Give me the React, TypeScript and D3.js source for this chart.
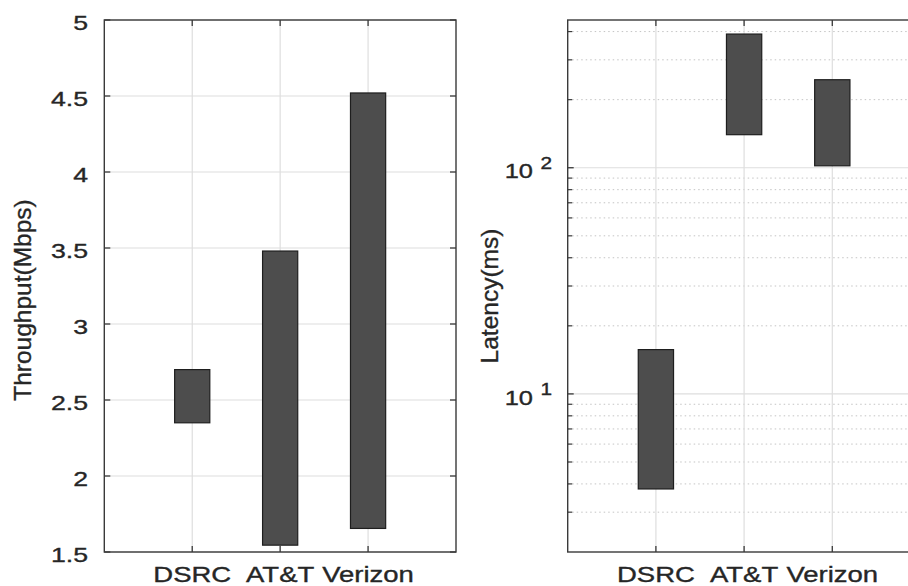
import React from "react";
import * as d3 from "d3";

const categories = ["DSRC", "AT&T", "Verizon"];
const throughputLow = [2.35, 1.545, 1.655];
const throughputHigh = [2.7, 3.48, 4.52];
const latencyLow = [3.8, 140, 102];
const latencyHigh = [15.7, 390, 245];
const throughputTicks = [1.5, 2, 2.5, 3, 3.5, 4, 4.5, 5];
const latencyMajor = [10, 100];
const latencyExponents = ["1", "2"];
const latencyMinor = [3, 4, 5, 6, 7, 8, 9, 20, 30, 40, 50, 60, 70, 80, 90, 200, 300, 400];

const W = 908;
const H = 586;
const TOP = 20;
const BOTTOM = 552;
const TEXT = "#262626";
const AXIS = "#3a3a3a";
const GRID = "#dedede";
const MINOR = "#c4c4c4";
const FONT = "'Liberation Sans', Arial, sans-serif";
const SX = 1.27;
const TS = 0.35;

export default function App() {
  const lx = d3.scaleLinear().domain([0, 4]).range([104.3, 456]);
  const ly = d3.scaleLinear().domain([1.5, 5]).range([BOTTOM, TOP]);
  const rx = d3.scaleLinear().domain([0, 4]).range([567.7, 920.5]);
  const ry = d3.scaleLog().domain([2, 450]).range([BOTTOM, TOP]);
  const barW = 0.4;
  const tickLen = 6;

  const leftX0 = lx(0), leftX1 = lx(4);
  const rightX0 = rx(0), rightX1 = rx(4);

  return (
    <svg
      width={W}
      height={H}
      style={{ position: "absolute", left: 0, top: 0, background: "#fff" }}
      fontFamily={FONT}
    >
      <rect x={0} y={0} width={W} height={H} fill="#fff" />

      {/* ---------- LEFT PANEL ---------- */}
      <g>
        {throughputTicks.map((t) => (
          <line key={"lg" + t} x1={leftX0} x2={leftX1} y1={ly(t)} y2={ly(t)} stroke={GRID} strokeWidth={1.2} />
        ))}
        {categories.map((c, i) => (
          <line key={"lgx" + c} x1={lx(i + 1)} x2={lx(i + 1)} y1={TOP} y2={BOTTOM} stroke={GRID} strokeWidth={1.2} />
        ))}
        {categories.map((c, i) => (
          <rect
            key={"lb" + c}
            x={lx(i + 1 - barW / 2)}
            y={ly(throughputHigh[i])}
            width={lx(i + 1 + barW / 2) - lx(i + 1 - barW / 2)}
            height={ly(throughputLow[i]) - ly(throughputHigh[i])}
            fill="#4d4d4d"
            stroke="#1e1e1e"
            strokeWidth={1.2}
          />
        ))}
        <rect x={leftX0} y={TOP} width={leftX1 - leftX0} height={BOTTOM - TOP} fill="none" stroke={AXIS} strokeWidth={1.4} />
        {throughputTicks.map((t) => (
          <g key={"lt" + t}>
            <line x1={leftX0} x2={leftX0 + tickLen} y1={ly(t)} y2={ly(t)} stroke={AXIS} strokeWidth={1.3} />
            <line x1={leftX1} x2={leftX1 - tickLen} y1={ly(t)} y2={ly(t)} stroke={AXIS} strokeWidth={1.3} />
            <text
              transform={`translate(88,${ly(t) + 9.5}) scale(${SX},1)`}
              textAnchor="end"
              fontSize={21}
              fill={TEXT}
              stroke={TEXT}
              strokeWidth={TS}
            >
              {String(t)}
            </text>
          </g>
        ))}
        {categories.map((c, i) => (
          <g key={"lxt" + c}>
            <line x1={lx(i + 1)} x2={lx(i + 1)} y1={BOTTOM} y2={BOTTOM - tickLen} stroke={AXIS} strokeWidth={1.3} />
            <line x1={lx(i + 1)} x2={lx(i + 1)} y1={TOP} y2={TOP + tickLen} stroke={AXIS} strokeWidth={1.3} />
            <text
              transform={`translate(${lx(i + 1)},581.5) scale(1.25,1)`}
              textAnchor="middle"
              fontSize={22}
              fill={TEXT}
              stroke={TEXT}
              strokeWidth={TS}
            >
              {c}
            </text>
          </g>
        ))}
        <text
          transform={`translate(30.5,300) rotate(-90)`}
          textAnchor="middle"
          fontSize={24.5}
          fill={TEXT}
          stroke={TEXT}
          strokeWidth={TS}
        >
          Throughput(Mbps)
        </text>
      </g>

      {/* ---------- RIGHT PANEL ---------- */}
      <g>
        {latencyMinor.map((t) => (
          <line
            key={"rmg" + t}
            x1={rightX0}
            x2={rightX1}
            y1={ry(t)}
            y2={ry(t)}
            stroke={MINOR}
            strokeWidth={1}
            strokeDasharray="1.5,3"
          />
        ))}
        {latencyMajor.map((t) => (
          <line key={"rg" + t} x1={rightX0} x2={rightX1} y1={ry(t)} y2={ry(t)} stroke={GRID} strokeWidth={1.2} />
        ))}
        {categories.map((c, i) => (
          <line key={"rgx" + c} x1={rx(i + 1)} x2={rx(i + 1)} y1={TOP} y2={BOTTOM} stroke={GRID} strokeWidth={1.2} />
        ))}
        {categories.map((c, i) => (
          <rect
            key={"rb" + c}
            x={rx(i + 1 - barW / 2)}
            y={ry(latencyHigh[i])}
            width={rx(i + 1 + barW / 2) - rx(i + 1 - barW / 2)}
            height={ry(latencyLow[i]) - ry(latencyHigh[i])}
            fill="#4d4d4d"
            stroke="#1e1e1e"
            strokeWidth={1.2}
          />
        ))}
        <rect x={rightX0} y={TOP} width={rightX1 - rightX0} height={BOTTOM - TOP} fill="none" stroke={AXIS} strokeWidth={1.4} />
        {latencyMinor.map((t) => (
          <line key={"rmt" + t} x1={rightX0} x2={rightX0 + 4.5} y1={ry(t)} y2={ry(t)} stroke={AXIS} strokeWidth={1.2} />
        ))}
        {latencyMajor.map((t, i) => (
          <g key={"rt" + t}>
            <line x1={rightX0} x2={rightX0 + tickLen} y1={ry(t)} y2={ry(t)} stroke={AXIS} strokeWidth={1.3} />
            <text
              transform={`translate(533,${ry(t) + 10.7}) scale(${SX},1)`}
              textAnchor="end"
              fontSize={20}
              fill={TEXT}
              stroke={TEXT}
              strokeWidth={TS}
            >
              10
            </text>
            <text
              transform={`translate(540.5,${ry(t) + 0.8}) scale(1.3,1)`}
              textAnchor="start"
              fontSize={16}
              fill={TEXT}
              stroke={TEXT}
              strokeWidth={TS}
            >
              {latencyExponents[i]}
            </text>
          </g>
        ))}
        {categories.map((c, i) => (
          <g key={"rxt" + c}>
            <line x1={rx(i + 1)} x2={rx(i + 1)} y1={BOTTOM} y2={BOTTOM - tickLen} stroke={AXIS} strokeWidth={1.3} />
            <line x1={rx(i + 1)} x2={rx(i + 1)} y1={TOP} y2={TOP + tickLen} stroke={AXIS} strokeWidth={1.3} />
            <text
              transform={`translate(${rx(i + 1)},581.5) scale(1.25,1)`}
              textAnchor="middle"
              fontSize={22}
              fill={TEXT}
              stroke={TEXT}
              strokeWidth={TS}
            >
              {c}
            </text>
          </g>
        ))}
        <text
          transform={`translate(497.5,296) rotate(-90)`}
          textAnchor="middle"
          fontSize={24.5}
          fill={TEXT}
          stroke={TEXT}
          strokeWidth={TS}
        >
          Latency(ms)
        </text>
      </g>
    </svg>
  );
}
